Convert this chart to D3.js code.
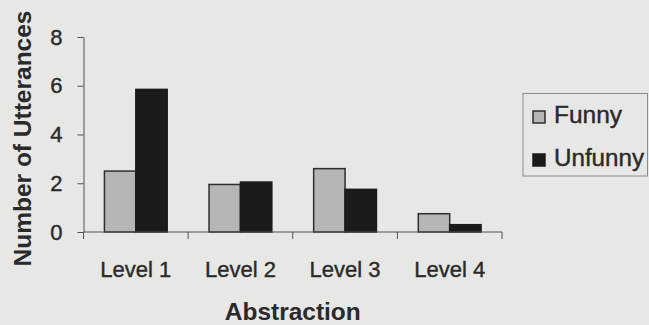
<!DOCTYPE html>
<html>
<head>
<meta charset="utf-8">
<script src="https://cdn.jsdelivr.net/npm/d3@7"></script>
<style>
  html, body { margin: 0; padding: 0; background: #e7e7e5; }
  svg { display: block; font-family: "Liberation Sans", Arial, sans-serif; }
</style>
</head>
<body>
<svg id="chart" width="649" height="325"></svg>
<script>
// Utterance counts by abstraction level
const categories = ["Level 1", "Level 2", "Level 3", "Level 4"];
const seriesNames = ["Funny", "Unfunny"];
const funny = [2.5, 1.95, 2.6, 0.75];
const unfunny = [5.85, 2.05, 1.75, 0.3];
const yTicks = [0, 2, 4, 6, 8];

const colors = { Funny: "#b6b6b4", Unfunny: "#1b1b1b" };
const strokes = { Funny: "#2e2e2e", Unfunny: "#1b1b1b" };
const textColor = "#2a2a2a";
const axisColor = "#505050";

const svg = d3.select("#chart");

const plot = { left: 83.5, right: 502, top: 37, bottom: 232 };

const x0 = d3.scaleBand()
  .domain(categories)
  .range([plot.left, plot.right])
  .paddingInner(0.4)
  .paddingOuter(0.2);

const x1 = d3.scaleBand()
  .domain(seriesNames)
  .range([0, x0.bandwidth()]);

const y = d3.scaleLinear()
  .domain([0, 8])
  .range([plot.bottom, plot.top]);

const rows = categories.map((c, i) => ({ category: c, Funny: funny[i], Unfunny: unfunny[i] }));

// Bars
const groups = svg.append("g").selectAll("g")
  .data(rows)
  .join("g")
  .attr("transform", d => `translate(${x0(d.category)},0)`);

groups.selectAll("rect")
  .data(d => seriesNames.map(s => ({ key: s, value: d[s] })))
  .join("rect")
  .attr("x", d => x1(d.key))
  .attr("y", d => y(d.value))
  .attr("width", x1.bandwidth())
  .attr("height", d => y(0) - y(d.value))
  .attr("fill", d => colors[d.key])
  .attr("stroke", d => strokes[d.key])
  .attr("stroke-width", 1.5);

// Y axis
const yAxis = svg.append("g")
  .attr("transform", `translate(${plot.left},0)`)
  .call(d3.axisLeft(y).tickValues(yTicks).tickSize(6).tickSizeOuter(0).tickPadding(15));
yAxis.select(".domain").attr("stroke", axisColor).attr("stroke-width", 1);
yAxis.selectAll(".tick line").attr("stroke", axisColor);
yAxis.selectAll(".tick text")
  .attr("fill", textColor)
  .attr("stroke", textColor)
  .attr("stroke-width", 0.4)
  .attr("font-size", 22)
  .attr("font-family", "Liberation Sans, Arial, sans-serif");

// X axis: ticks at the category boundaries
const boundaries = [plot.left].concat(categories.map(c => x0(c) + x0.bandwidth() + x0.step() * 0.2));
const xAxis = svg.append("g");
xAxis.append("line")
  .attr("x1", plot.left).attr("x2", plot.right)
  .attr("y1", y(0)).attr("y2", y(0))
  .attr("stroke", axisColor).attr("stroke-width", 1);
xAxis.selectAll("line.tick")
  .data(boundaries)
  .join("line")
  .attr("class", "tick")
  .attr("x1", d => d).attr("x2", d => d)
  .attr("y1", y(0)).attr("y2", y(0) + 7)
  .attr("stroke", axisColor);
xAxis.selectAll("text")
  .data(categories)
  .join("text")
  .attr("x", d => x0(d) + x0.bandwidth() / 2)
  .attr("y", 277)
  .attr("text-anchor", "middle")
  .attr("font-size", 22)
  .attr("fill", textColor)
  .attr("stroke", textColor)
  .attr("stroke-width", 0.4)
  .text(d => d);

// Axis titles
svg.append("text")
  .attr("transform", `translate(31,138.5) rotate(-90)`)
  .attr("text-anchor", "middle")
  .attr("font-size", 24)
  .attr("font-weight", "bold")
  .attr("fill", textColor)
  .attr("textLength", 256)
  .attr("lengthAdjust", "spacingAndGlyphs")
  .text("Number of Utterances");

svg.append("text")
  .attr("x", (plot.left + plot.right) / 2)
  .attr("y", 320)
  .attr("text-anchor", "middle")
  .attr("font-size", 24)
  .attr("font-weight", "bold")
  .attr("fill", textColor)
  .attr("textLength", 136)
  .attr("lengthAdjust", "spacingAndGlyphs")
  .text("Abstraction");

// Legend
const legend = svg.append("g");
legend.append("rect")
  .attr("x", 523).attr("y", 93.5)
  .attr("width", 124.5).attr("height", 82.5)
  .attr("fill", "none")
  .attr("stroke", "#8a8a8a")
  .attr("stroke-width", 1);

const legendItems = legend.selectAll("g.item")
  .data(seriesNames)
  .join("g")
  .attr("class", "item")
  .attr("transform", (d, i) => `translate(533,${111 + i * 43})`);

legendItems.append("rect")
  .attr("width", 12).attr("height", 12)
  .attr("fill", d => colors[d])
  .attr("stroke", d => strokes[d])
  .attr("stroke-width", 1.5);

legendItems.append("text")
  .attr("x", 21)
  .attr("y", 12)
  .attr("font-size", 23)
  .attr("fill", textColor)
  .attr("stroke", textColor)
  .attr("stroke-width", 0.4)
  .attr("textLength", d => d === "Funny" ? 68 : 90)
  .attr("lengthAdjust", "spacingAndGlyphs")
  .text(d => d);
</script>
</body>
</html>
